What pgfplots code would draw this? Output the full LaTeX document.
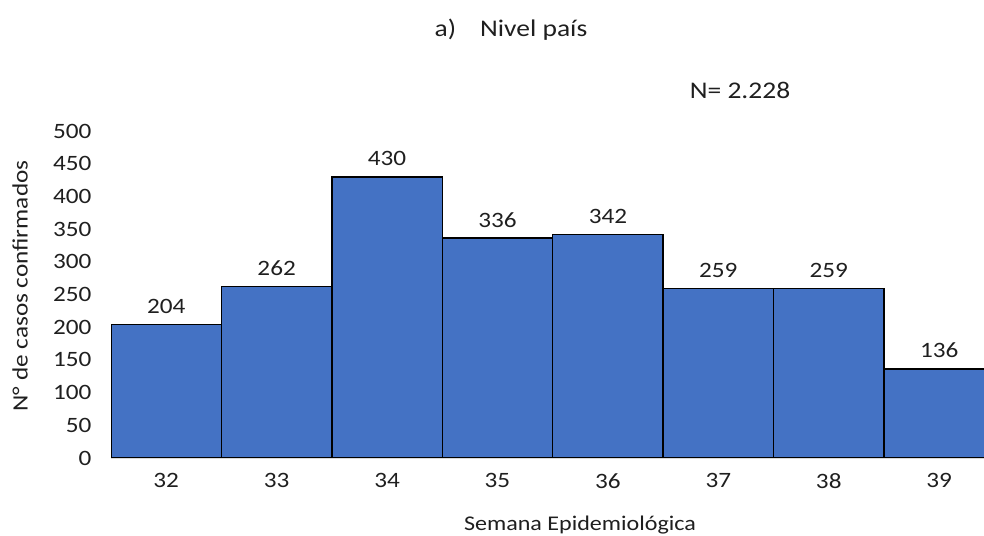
\documentclass[border=0pt]{standalone}
\usepackage{fontspec}
\setmainfont{Carlito}[FakeStretch=1.15]
\usepackage{pgfplots}
\pgfplotsset{compat=1.18}
\definecolor{barblue}{HTML}{4472C4}
\definecolor{txt}{HTML}{1F1F1F}
\begin{document}
\begin{tikzpicture}[x=1bp,y=1bp]
\useasboundingbox (0,0) rectangle (984,536);
\begin{axis}[
  at={(111bp,78bp)}, anchor=south west,
  scale only axis, width=873bp, height=327bp,
  xmin=31.5, xmax=39.406, ymin=0, ymax=500,
  ytick={0,50,...,500},
  xtick={32,...,39},
  axis lines=left,
  y axis line style={draw=none},
  x axis line style={draw=gray!30,-},
  major tick length=0pt,
  tick style={draw=none},
  ticklabel style={font=\fontsize{22}{26}\selectfont, text=txt},
  /pgf/number format/assume math mode=true,
  yticklabel style={xshift=-16bp},
  xticklabel style={yshift=-12bp},
  ybar, bar width=1,
  nodes near coords,
  every node near coord/.append style={font=\fontsize{22}{26}\selectfont, text=txt, yshift=7bp},
  clip=true,
]
\addplot[fill=barblue, draw=black, line width=1.5bp] coordinates {
(32,204) (33,262) (34,430) (35,336) (36,342) (37,259) (38,259) (39,136)};
\end{axis}
\node[font=\fontsize{22}{26}\selectfont, rotate=90, text=txt] at (20,250) {N° de casos confirmados};
\node[font=\fontsize{21}{25}\selectfont, text=txt] at (580,11) {Semana Epidemiológica};
\node[font=\fontsize{24}{28}\selectfont, text=txt] at (511,506) {a)\hspace{24bp}Nivel país};
\node[font=\fontsize{24}{28}\selectfont, text=txt] at (740,446) {N= 2.228};
\end{tikzpicture}
\end{document}
